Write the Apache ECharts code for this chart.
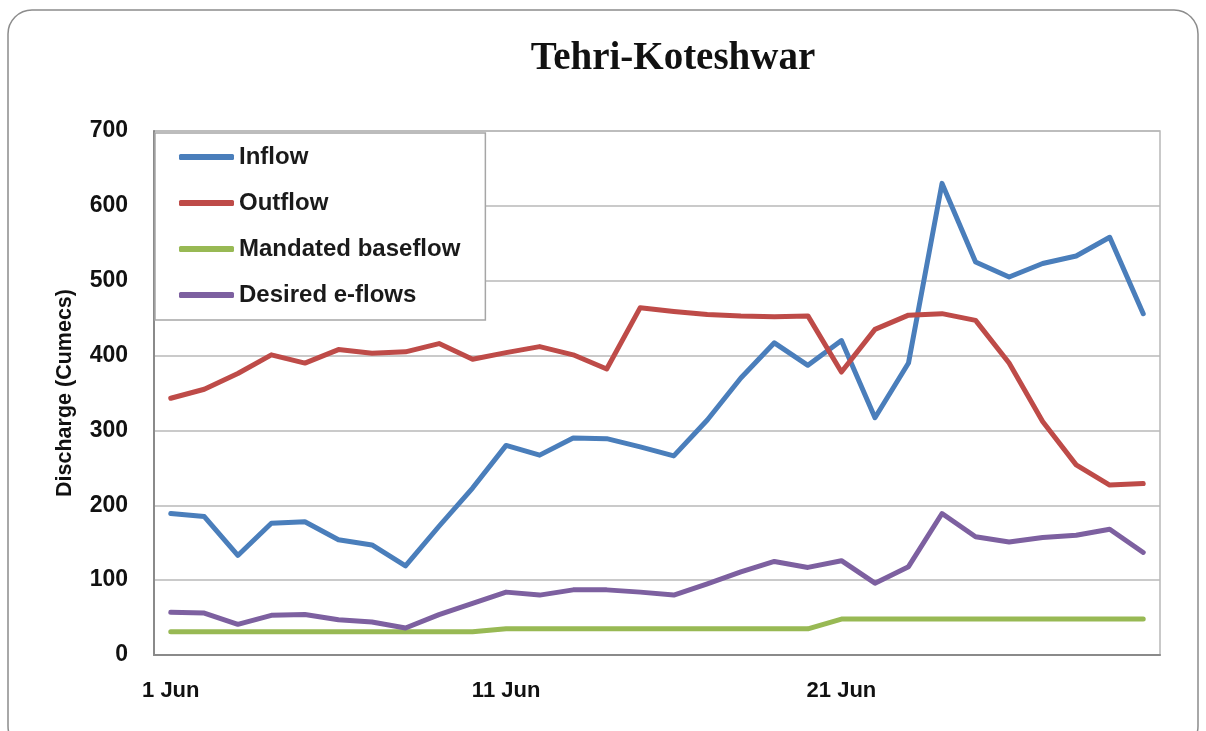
<!DOCTYPE html>
<html>
<head>
<meta charset="utf-8">
<title>Tehri-Koteshwar</title>
<script src="https://cdn.jsdelivr.net/npm/echarts@6/dist/echarts.min.js"></script>
<style>
  html, body { margin: 0; padding: 0; background: #fff; }
  #chart { width: 1206px; height: 731px; }
</style>
</head>
<body>
<div id="chart"></div>
<script>
// data, daily values for June
var days = [];
for (var d = 1; d <= 30; d++) { days.push(d + ' Jun'); }

var inflow = [189, 185, 133, 176, 178, 154, 147, 119, 172, 223,
              280, 267, 290, 289, 278, 266, 314, 370, 417, 387,
              420, 317, 390, 630, 525, 505, 523, 533, 558, 456];
var outflow = [343, 355, 376, 401, 390, 408, 403, 405, 416, 395,
               404, 412, 401, 382, 464, 459, 455, 453, 452, 453,
               378, 435, 454, 456, 447, 390, 312, 254, 227, 229];
var baseflow = [31, 31, 31, 31, 31, 31, 31, 31, 31, 31,
                35, 35, 35, 35, 35, 35, 35, 35, 35, 35,
                48, 48, 48, 48, 48, 48, 48, 48, 48, 48];
var eflows = [57, 56, 41, 53, 54, 47, 44, 36, 54, 69,
              84, 80, 87, 87, 84, 80, 95, 111, 125, 117,
              126, 96, 118, 189, 158, 151, 157, 160, 168, 137];

var seriesNames = ['Inflow', 'Outflow', 'Mandated baseflow', 'Desired e-flows'];
var seriesColors = ['#4a7ebb', '#be4b48', '#98b954', '#7d60a0'];
var yTicks = [0, 100, 200, 300, 400, 500, 600, 700];

var font = 'Liberation Sans, Arial, sans-serif';

var myChart = echarts.init(document.getElementById('chart'));

function lineSeries(i, values) {
  return {
    name: seriesNames[i],
    type: 'line',
    data: values,
    symbol: 'none',
    color: seriesColors[i],
    lineStyle: { width: 5, color: seriesColors[i], cap: 'round', join: 'round' }
  };
}

var option = {
  backgroundColor: '#fff',
  animation: false,
  title: {
    text: 'Tehri-Koteshwar',
    left: 668,
    top: 34,
    textAlign: 'center',
    textStyle: {
      fontFamily: 'Liberation Serif, Times New Roman, serif',
      fontWeight: 'bold',
      fontSize: 39,
      color: '#111'
    }
  },
  // outer rounded frame
  graphic: [{
    type: 'rect',
    shape: { x: 8, y: 10, width: 1190, height: 740, r: 24 },
    style: { fill: 'none', stroke: '#8c8c8c', lineWidth: 1.5 },
    z: -1
  }],
  legend: {
    orient: 'vertical',
    left: 155,
    top: 133,
    data: seriesNames,
    icon: 'roundRect',
    itemWidth: 55,
    itemHeight: 6,
    itemGap: 22,
    padding: [12, 25, 13, 24],
    backgroundColor: '#fff',
    borderColor: '#a6a6a6',
    borderWidth: 1.5,
    borderRadius: 0,
    textStyle: {
      fontFamily: font,
      fontWeight: 'bold',
      fontSize: 24,
      lineHeight: 24,
      color: '#1a1a1a'
    }
  },
  grid: {
    left: 154,
    right: 46,
    top: 131,
    bottom: 76,
    show: true,
    borderColor: '#b8b8b8',
    borderWidth: 1.5
  },
  xAxis: {
    type: 'category',
    data: days,
    boundaryGap: true,
    axisLine: { lineStyle: { color: '#8a8a8a', width: 2 } },
    axisTick: { show: false },
    axisLabel: {
      interval: 9,
      margin: 25,
      fontFamily: font,
      fontWeight: 'bold',
      fontSize: 22,
      color: '#111'
    },
    splitLine: { show: false }
  },
  yAxis: {
    type: 'value',
    min: yTicks[0],
    max: yTicks[yTicks.length - 1],
    interval: 100,
    name: 'Discharge (Cumecs)',
    nameLocation: 'middle',
    nameGap: 78,
    nameTextStyle: {
      fontFamily: font,
      fontWeight: 'bold',
      fontSize: 21.5,
      color: '#111'
    },
    axisLine: { show: true, lineStyle: { color: '#8a8a8a', width: 2 } },
    axisTick: { show: false },
    axisLabel: {
      margin: 26,
      fontFamily: font,
      fontWeight: 'bold',
      fontSize: 23,
      color: '#111'
    },
    splitLine: { lineStyle: { color: '#b8b8b8', width: 1.5 } }
  },
  series: [
    lineSeries(0, inflow),
    lineSeries(1, outflow),
    lineSeries(2, baseflow),
    lineSeries(3, eflows)
  ]
};

myChart.setOption(option);
</script>
</body>
</html>
